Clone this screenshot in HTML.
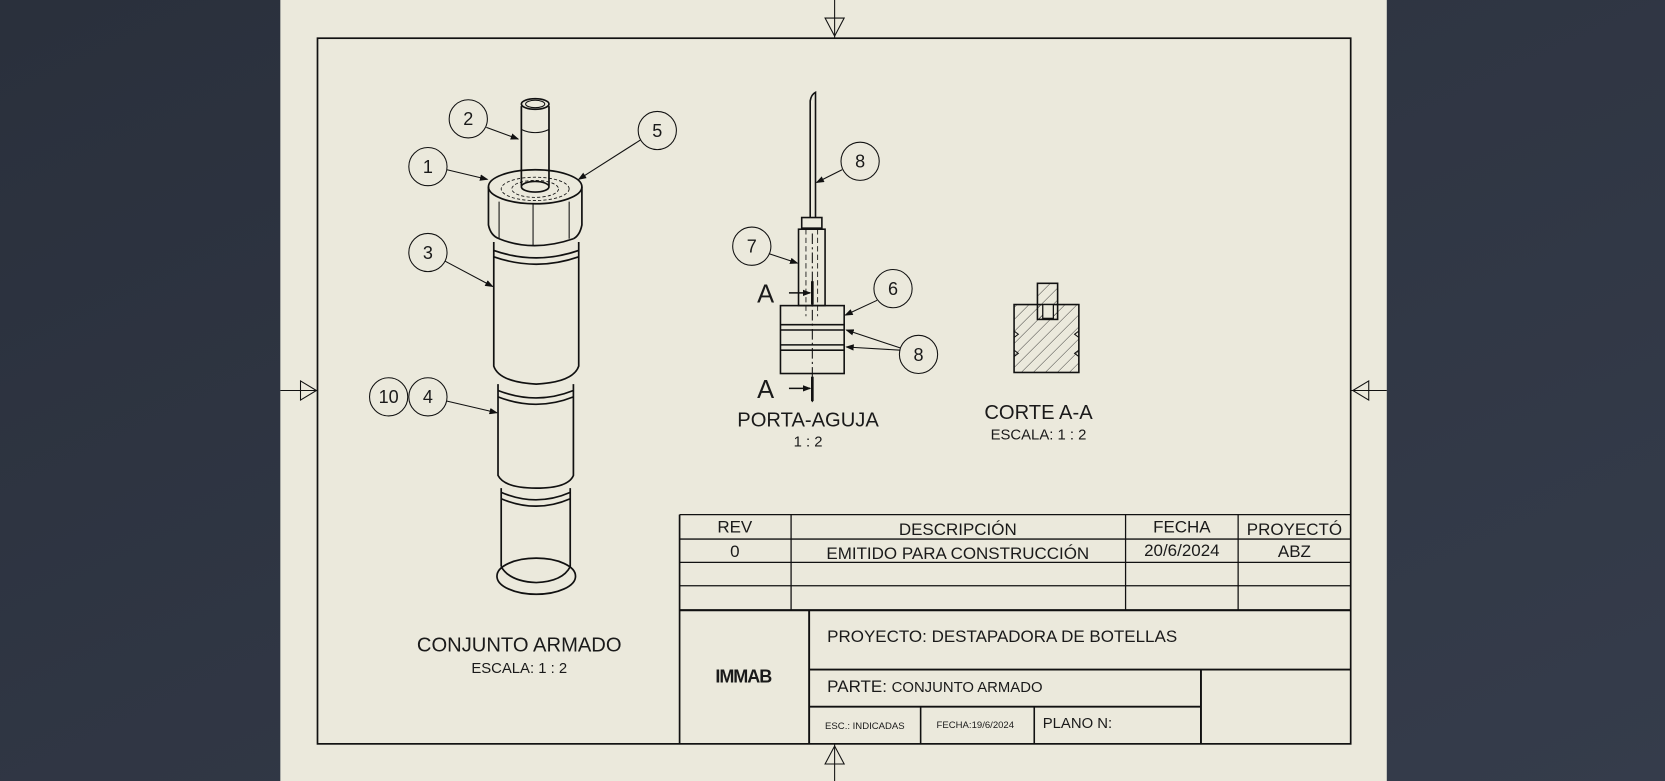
<!DOCTYPE html>
<html><head><meta charset="utf-8"><style>
html,body{margin:0;padding:0;width:1665px;height:781px;overflow:hidden;background:#2e3544}
svg{display:block}
text{font-family:"Liberation Sans",sans-serif;fill:#1a1a1a}
</style></head><body>
<svg width="1665" height="781" viewBox="0 0 1568 736" preserveAspectRatio="none" xmlns="http://www.w3.org/2000/svg">
<defs>
<linearGradient id="bg" x1="0" y1="0" x2="1" y2="1"><stop offset="0" stop-color="#2a303c"/><stop offset="1" stop-color="#353c4b"/></linearGradient>
<marker id="ar" markerWidth="8" markerHeight="6" refX="7" refY="3" orient="auto" markerUnits="userSpaceOnUse"><path d="M0,0 L8,3 L0,6 z" fill="#111"/></marker>
<pattern id="hatch" width="8" height="8" patternUnits="userSpaceOnUse" patternTransform="rotate(45)"><line x1="0" y1="0" x2="0" y2="8" stroke="#222" stroke-width="0.8"/></pattern>
</defs>
<rect width="1568" height="736" fill="url(#bg)"/>
<rect x="264" y="0" width="1042" height="736" fill="#ebe9dc"/>
<g stroke="#111" fill="none">
<rect x="299" y="36" width="973" height="665" stroke-width="1.6"/>
<!-- center marks -->
<line x1="786" y1="0" x2="786" y2="36"/><path d="M777,17 L795,17 L786,34 z"/>
<line x1="786" y1="701" x2="786" y2="736"/><path d="M777,720 L795,720 L786,703 z"/>
<line x1="264" y1="368" x2="299" y2="368"/><path d="M283,359 L283,377 L298,368 z"/>
<line x1="1272" y1="368" x2="1306" y2="368"/><path d="M1289,359 L1289,377 L1274,368 z"/>
<!-- revision table -->
<g stroke-width="1.2">
<line x1="640" y1="485" x2="1272" y2="485"/><line x1="640" y1="508" x2="1272" y2="508"/>
<line x1="640" y1="530" x2="1272" y2="530"/><line x1="640" y1="552" x2="1272" y2="552"/>
<line x1="745" y1="485" x2="745" y2="575"/><line x1="1060" y1="485" x2="1060" y2="575"/><line x1="1166" y1="485" x2="1166" y2="575"/>
</g>
<line x1="640" y1="485" x2="640" y2="701" stroke-width="1.6"/>
<line x1="640" y1="575" x2="1272" y2="575" stroke-width="2"/>
<line x1="762" y1="575" x2="762" y2="701" stroke-width="1.8"/>
<line x1="762" y1="631" x2="1272" y2="631" stroke-width="1.8"/>
<line x1="762" y1="666" x2="1131" y2="666" stroke-width="1.8"/>
<line x1="1131" y1="631" x2="1131" y2="701" stroke-width="1.8"/>
<line x1="867" y1="666" x2="867" y2="701" stroke-width="1.5"/>
<line x1="974" y1="666" x2="974" y2="701" stroke-width="1.5"/>

<!-- ASSEMBLY -->
<g stroke-width="1.6">
<path d="M491,100 L491,175 M517,100 L517,175"/>
<ellipse cx="504" cy="98" rx="13" ry="5"/><ellipse cx="504" cy="98" rx="9" ry="3.5" stroke-width="1"/>
<path d="M491,122 Q504,128 517,122" stroke-width="1"/>
<ellipse cx="504" cy="176" rx="44" ry="16"/>
<ellipse cx="504" cy="176" rx="13" ry="5"/>
<path d="M460,176 L460,212 Q462,222 470,225 M548,176 L548,212 Q546,222 540,225"/>
<path d="M470,190 L470,225 M502,192 L502,232 M536,190 L536,225" stroke-width="1"/>
<path d="M470,225 Q502,238 540,225" />
<path d="M465,228 L465,345 Q470,360 505,362 Q540,360 545,345 L545,228"/>
<path d="M465,236 Q505,250 545,236 M465,242 Q505,256 545,242"/>
<path d="M469,362 L469,448 Q475,460 505,460 Q535,460 540,448 L540,362"/>
<path d="M469,368 Q505,382 540,368 M469,374 Q505,388 540,374"/>
<path d="M472,460 L472,534 M537,460 L537,534"/>
<path d="M472,464 Q505,478 537,464 M472,470 Q505,484 537,470"/>
<ellipse cx="505" cy="543" rx="37" ry="17"/>
<path d="M472,534 Q480,548 505,549 Q530,548 537,534"/>
</g>
<g stroke-width="0.8" stroke-dasharray="3,2">
<ellipse cx="504" cy="178" rx="32" ry="11"/><ellipse cx="504" cy="178" rx="22" ry="8"/>
</g>
<!-- balloons left -->
<g stroke-width="1">
<circle cx="403" cy="157" r="18"/><circle cx="441" cy="112" r="18"/><circle cx="619" cy="123" r="18"/>
<circle cx="403" cy="238" r="18"/><circle cx="366" cy="374" r="18"/><circle cx="403" cy="374" r="18"/>
<line x1="421" y1="160" x2="459" y2="169" marker-end="url(#ar)"/>
<line x1="458" y1="120" x2="488" y2="131" marker-end="url(#ar)"/>
<line x1="603" y1="132" x2="545" y2="169" marker-end="url(#ar)"/>
<line x1="419" y1="246" x2="464" y2="270" marker-end="url(#ar)"/>
<line x1="421" y1="378" x2="468" y2="389" marker-end="url(#ar)"/>
</g>

<!-- PORTA-AGUJA -->
<g stroke-width="1.5">
<path d="M763,205 L763,95 Q764,89 768,87 L768,205"/>
<rect x="755" y="205" width="19" height="10"/>
<rect x="752" y="216" width="25" height="72"/>
<rect x="735" y="288" width="60" height="64"/>
<line x1="735" y1="306" x2="795" y2="306"/><line x1="735" y1="311" x2="795" y2="311"/>
<line x1="735" y1="325" x2="795" y2="325"/><line x1="735" y1="330" x2="795" y2="330"/>
</g>
<g stroke-width="0.8" stroke-dasharray="5,3">
<line x1="759" y1="216" x2="759" y2="298"/><line x1="770" y1="216" x2="770" y2="298"/>
</g>
<line x1="765" y1="220" x2="765" y2="380" stroke-width="1" stroke-dasharray="10,3,2,3"/>
<g stroke-width="2.5"><line x1="765" y1="265" x2="765" y2="287"/><line x1="765" y1="355" x2="765" y2="378"/></g>
<line x1="743" y1="276" x2="763" y2="276" stroke-width="1.5" marker-end="url(#ar)"/>
<line x1="743" y1="366" x2="763" y2="366" stroke-width="1.5" marker-end="url(#ar)"/>
<g stroke-width="1">
<circle cx="810" cy="152" r="18"/><circle cx="708" cy="232" r="18"/><circle cx="841" cy="272" r="18"/><circle cx="865" cy="334" r="18"/>
<line x1="793" y1="160" x2="769" y2="172" marker-end="url(#ar)"/>
<line x1="724" y1="239" x2="751" y2="248" marker-end="url(#ar)"/>
<line x1="826" y1="283" x2="796" y2="297" marker-end="url(#ar)"/>
<line x1="848" y1="328" x2="797" y2="311" marker-end="url(#ar)"/>
<line x1="848" y1="330" x2="797" y2="327" marker-end="url(#ar)"/>
</g>

<!-- CORTE A-A -->
<rect x="955" y="287" width="61" height="64" fill="url(#hatch)" stroke-width="1.5"/>
<rect x="977" y="267" width="19" height="34" fill="url(#hatch)" stroke-width="1.5"/>
<rect x="982" y="287" width="10" height="13" fill="#ebe9dc" stroke-width="1.2"/>
<path d="M955,312 l4,3 l-4,3 M955,330 l4,3 l-4,3 M1016,312 l-4,3 l4,3 M1016,330 l-4,3 l4,3" stroke-width="1"/>
</g>

<!-- texts -->
<g font-size="17" text-anchor="middle">
<text x="403" y="163">1</text><text x="441" y="118">2</text><text x="619" y="129">5</text>
<text x="403" y="244">3</text><text x="366" y="380">10</text><text x="403" y="380">4</text>
<text x="810" y="158">8</text><text x="708" y="238">7</text><text x="841" y="278">6</text><text x="865" y="340">8</text>
</g>
<text x="713" y="285" font-size="24">A</text>
<text x="713" y="375" font-size="24">A</text>
<g text-anchor="middle">
<text x="761" y="402" font-size="19">PORTA-AGUJA</text>
<text x="761" y="421" font-size="14">1 : 2</text>
<text x="978" y="395" font-size="19">CORTE A-A</text>
<text x="978" y="414" font-size="14">ESCALA: 1 : 2</text>
<text x="489" y="614" font-size="19">CONJUNTO ARMADO</text>
<text x="489" y="634" font-size="14">ESCALA: 1 : 2</text>
<text x="692" y="502" font-size="16">REV</text>
<text x="902" y="504" font-size="16">DESCRIPCIÓN</text>
<text x="1113" y="502" font-size="16">FECHA</text>
<text x="1219" y="504" font-size="16">PROYECTÓ</text>
<text x="692" y="525" font-size="16">0</text>
<text x="902" y="527" font-size="16">EMITIDO PARA CONSTRUCCIÓN</text>
<text x="1113" y="524" font-size="16">20/6/2024</text>
<text x="1219" y="525" font-size="16">ABZ</text>
<text x="700" y="643" font-size="17" font-weight="bold" style="letter-spacing:-1px">IMMAB</text>
</g>
<text x="779" y="605" font-size="16">PROYECTO: DESTAPADORA DE BOTELLAS</text>
<text x="779" y="652" font-size="16">PARTE: <tspan font-size="14">CONJUNTO ARMADO</tspan></text>
<text x="777" y="687" font-size="9">ESC.: INDICADAS</text>
<text x="882" y="686" font-size="9">FECHA:19/6/2024</text>
<text x="982" y="686" font-size="14">PLANO N:</text>
</svg>
</body></html>
